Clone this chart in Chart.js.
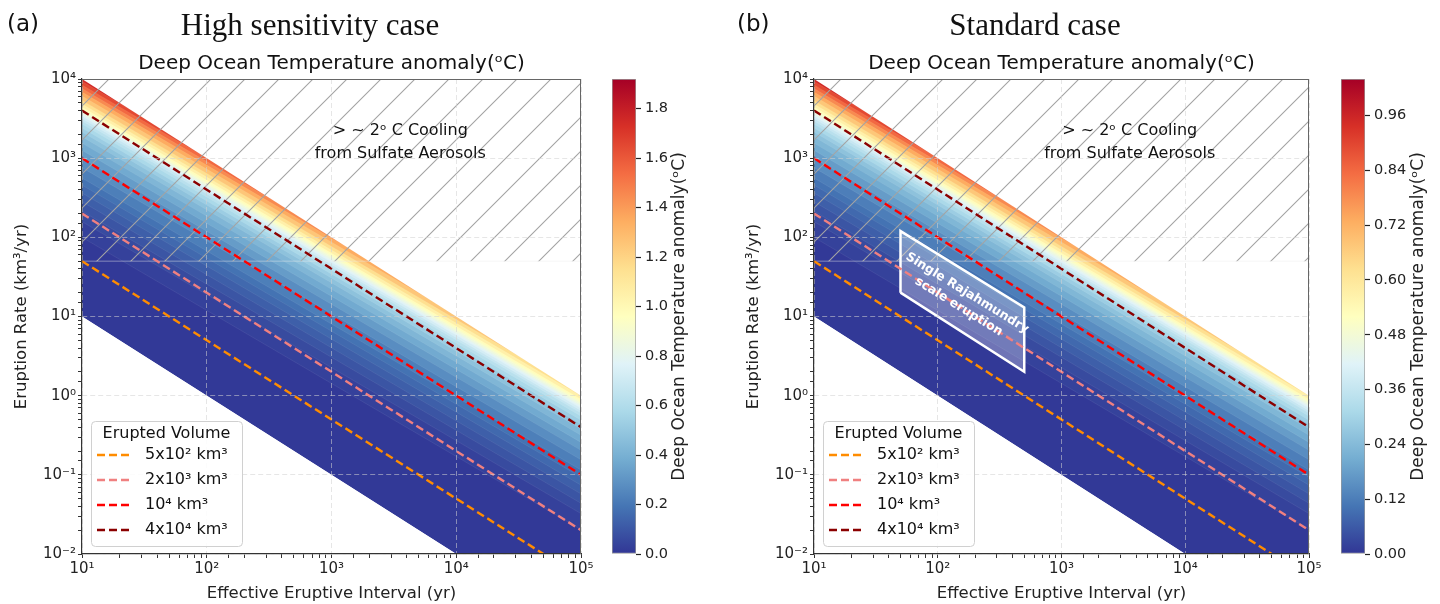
<!DOCTYPE html>
<html>
<head>
<meta charset="utf-8">
<script src="https://cdn.jsdelivr.net/npm/chart.js@4.4.1/dist/chart.umd.min.js"></script>
<style>
  html, body { margin: 0; padding: 0; background: #fff; }
  #wrap { position: relative; width: 1440px; height: 604px; overflow: hidden; }
  canvas { position: absolute; top: 0; }
</style>
</head>
<body>
<div id="wrap">
  <canvas id="mainA" width="600" height="604" style="left:0px"></canvas>
  <canvas id="barA" width="120" height="604" style="left:600px"></canvas>
  <canvas id="mainB" width="600" height="604" style="left:732px"></canvas>
  <canvas id="barB" width="108" height="604" style="left:1332px"></canvas>
</div>
<script>
// ---- data ----
// axis ranges
const intervalRange = [10, 1e5];
const rateRange = [1e-2, 1e4];

// erupted volume reference lines: rate at interval = 10 yr and at 1e5 yr
const volumeLabels = ['5x10² km³', '2x10³ km³', '10⁴ km³', '4x10⁴ km³'];
const volumeRateAt10 = [50, 200, 1000, 4000];
const volumeRateAt1e5 = [0.005, 0.02, 0.1, 0.4];

// edges of the coloured region (100 km3 and 1e5 km3)
const edgeRateAt10 = [10, 1e4];
const edgeRateAt1e5 = [1e-3, 1];

// contour lines of the temperature field (rate at 10 yr, rate at 1e5 yr)
const contourRateAt10 = [100, 158, 214, 282, 363, 457, 562, 759, 1000, 1259, 1549, 1862,
  2138, 2399, 2692, 2951, 3162, 3388, 3589, 3802, 3981, 4169, 4416, 4842, 5370, 6095,
  6839, 7586, 8414, 9333, 10233];
const contourRateAt1e5 = [0.0204, 0.0324, 0.0437, 0.0575, 0.0741, 0.0933, 0.115, 0.155,
  0.204, 0.257, 0.316, 0.380, 0.437, 0.490, 0.550, 0.603, 0.646, 0.692, 0.733, 0.776,
  0.813, 0.851, 0.902, 0.989, 1.096, 1.245, 1.396, 1.549, 1.718, 1.905, 2.089];
const contourTempA = [0.02, 0.05, 0.08, 0.11, 0.14, 0.17, 0.2, 0.25, 0.3, 0.35, 0.4, 0.45,
  0.5, 0.55, 0.6, 0.65, 0.7, 0.75, 0.8, 0.85, 0.9, 0.95, 1.0, 1.1, 1.2, 1.3,
  1.4, 1.5, 1.6, 1.7, 1.8];
const contourTempB = [0.011, 0.027, 0.043, 0.06, 0.076, 0.092, 0.108, 0.135, 0.163, 0.19,
  0.217, 0.244, 0.271, 0.298, 0.325, 0.352, 0.379, 0.406, 0.433, 0.46, 0.488, 0.515,
  0.542, 0.596, 0.65, 0.704, 0.759, 0.813, 0.867, 0.921, 0.975];
const tempMaxA = 1.92;
const tempMaxB = 1.04;
const cbarStepA = 0.2;
const cbarStepB = 0.12;

// sulfate cooling hatched zone (rate from 50 up)
const hatchRates = [50, 1e4];

// Rajahmundry box corners (interval, rate)
const boxIntervals = [50, 50, 500, 500, 50];
const boxRates = [20, 120, 13, 2, 20];

// ---- styles ----
const volumeColors = ['#ff8c00', '#f08080', '#ff0000', '#8b0000'];
const rdylbuR = ['#313695', '#4575b4', '#74add1', '#abd9e9', '#e0f3f8', '#ffffbf',
  '#fee090', '#fdae61', '#f46d43', '#d73027', '#a50026'];
const FONT = "'DejaVu Sans', sans-serif";
Chart.defaults.font.family = FONT;
Chart.defaults.color = '#222';

function hexRgb(h) {
  return [parseInt(h.slice(1, 3), 16), parseInt(h.slice(3, 5), 16), parseInt(h.slice(5, 7), 16)];
}
function cmap(t) {
  const n = rdylbuR.length - 1;
  t = Math.min(1, Math.max(0, t)) * n;
  const i = Math.min(Math.floor(t), n - 1), f = t - i;
  const a = hexRgb(rdylbuR[i]), b = hexRgb(rdylbuR[i + 1]);
  const c = a.map((v, k) => Math.round(v + (b[k] - v) * f));
  return 'rgb(' + c.join(',') + ')';
}

const supMap = { '-': '⁻', '0': '⁰', '1': '¹', '2': '²', '3': '³', '4': '⁴', '5': '⁵' };
function isDecade(v) {
  const e = Math.log10(v);
  return Math.abs(e - Math.round(e)) < 1e-6;
}
function powLabel(v) {
  if (!isDecade(v)) return '';
  return '10' + String(Math.round(Math.log10(v))).split('').map(c => supMap[c]).join('');
}

function hatchPattern() {
  const c = document.createElement('canvas');
  c.width = 34; c.height = 34;
  const g = c.getContext('2d');
  g.strokeStyle = '#a4a4a4';
  g.lineWidth = 1.1;
  g.beginPath();
  g.moveTo(-2, 20); g.lineTo(20, -2);
  g.moveTo(16, 36); g.lineTo(36, 16);
  g.stroke();
  return g.createPattern(c, 'repeat');
}

function edgeLine(r10, r1e5) {
  return [{ x: intervalRange[0], y: r10 }, { x: intervalRange[1], y: r1e5 }];
}

// spines, legend, labels and headers
function decorPlugin(cfg) {
  return {
    id: 'decor',
    afterDraw(chart) {
      const { ctx, chartArea: a, scales } = chart;
      const xs = scales.x, ys = scales.y;
      ctx.save();
      // top and right spines
      ctx.strokeStyle = '#666';
      ctx.lineWidth = 1;
      ctx.beginPath();
      ctx.moveTo(a.left, a.top + 0.5); ctx.lineTo(a.right, a.top + 0.5);
      ctx.moveTo(a.right - 0.5, a.top); ctx.lineTo(a.right - 0.5, a.bottom);
      ctx.stroke();

      // cooling note
      ctx.fillStyle = '#111';
      ctx.font = '16px ' + FONT;
      ctx.textAlign = 'center';
      ctx.textBaseline = 'middle';
      const nx = xs.getPixelForValue(3560);
      ctx.fillText('> ~ 2ᵒ C Cooling', nx, ys.getPixelForValue(2200));
      ctx.fillText('from Sulfate Aerosols', nx, ys.getPixelForValue(1150));

      // Rajahmundry label
      if (cfg.withBox) {
        const px = boxIntervals.slice(0, 4).map(v => xs.getPixelForValue(v));
        const py = boxRates.slice(0, 4).map(v => ys.getPixelForValue(v));
        const cx = px.reduce((s, v) => s + v, 0) / 4;
        const cy = py.reduce((s, v) => s + v, 0) / 4;
        const ang = Math.atan2(py[2] - py[1], px[2] - px[1]);
        ctx.save();
        ctx.translate(cx, cy);
        ctx.rotate(ang);
        ctx.fillStyle = '#fff';
        ctx.font = 'bold 12.5px ' + FONT;
        ctx.fillText('Single Rajahmundry', 0, -9);
        ctx.fillText('scale eruption', 0, 7);
        ctx.restore();
      }

      // legend
      const lx = a.left + 9, lw = 151, lh = 125, ly = a.bottom - 8 - lh;
      ctx.beginPath();
      ctx.roundRect(lx + 0.5, ly + 0.5, lw, lh, 4);
      ctx.fillStyle = 'rgba(255,255,255,0.85)';
      ctx.fill();
      ctx.strokeStyle = '#d0d0d0';
      ctx.lineWidth = 1;
      ctx.stroke();
      ctx.fillStyle = '#111';
      ctx.font = '16px ' + FONT;
      ctx.textAlign = 'center';
      ctx.fillText('Erupted Volume', lx + lw / 2, ly + 13);
      ctx.textAlign = 'left';
      volumeLabels.forEach((lab, i) => {
        const yy = ly + 34 + i * 25;
        ctx.save();
        ctx.strokeStyle = volumeColors[i];
        ctx.lineWidth = 2.4;
        ctx.setLineDash([8, 4]);
        ctx.beginPath();
        ctx.moveTo(lx + 6, yy); ctx.lineTo(lx + 40, yy);
        ctx.stroke();
        ctx.restore();
        ctx.fillText(lab, lx + 54, yy);
      });

      // headers
      ctx.textAlign = 'left';
      ctx.textBaseline = 'alphabetic';
      ctx.font = '23px ' + FONT;
      ctx.fillText(cfg.tag, cfg.tagX, 31);
      ctx.textAlign = 'center';
      ctx.font = '31px "Liberation Serif", serif';
      ctx.fillText(cfg.title, cfg.titleX, 35);
      ctx.font = '20px ' + FONT;
      ctx.fillText('Deep Ocean Temperature anomaly(ᵒC)', (a.left + a.right) / 2, 69);
      ctx.restore();
    }
  };
}

function buildMain(id, temps, tMax, cfg) {
  const ds = [];
  // dark base of the coloured band
  ds.push({ data: edgeLine(edgeRateAt10[0], edgeRateAt1e5[0]), fill: 'end',
    backgroundColor: cmap(temps[0] / 2 / tMax), borderWidth: 0, order: 300 });
  temps.forEach((t, i) => {
    const hi = i + 1 < temps.length ? temps[i + 1] : tMax;
    ds.push({ data: edgeLine(contourRateAt10[i], contourRateAt1e5[i]), fill: 'end',
      backgroundColor: cmap((t + hi) / 2 / tMax),
      borderColor: 'rgba(255,255,255,0.12)', borderWidth: 0.6, order: 200 - i });
  });
  // white outside the band
  ds.push({ data: edgeLine(edgeRateAt10[1], edgeRateAt1e5[1]), fill: 'end',
    backgroundColor: '#ffffff', borderWidth: 0, order: 50 });
  ds.push({ data: edgeLine(edgeRateAt10[0], edgeRateAt1e5[0]), fill: 'start',
    backgroundColor: '#ffffff', borderWidth: 0, order: 50 });
  // hatched cooling zone
  ds.push({ data: edgeLine(hatchRates[1], hatchRates[1]), fill: { value: hatchRates[0] },
    backgroundColor: hatchPattern(), borderWidth: 0, order: 20 });
  ds.push({ data: edgeLine(hatchRates[0], hatchRates[0]), fill: false,
    borderColor: 'rgba(235,235,235,0.45)', borderWidth: 1, order: 19 });
  if (cfg.withBox) {
    ds.push({ data: boxIntervals.map((v, i) => ({ x: v, y: boxRates[i] })), fill: 'shape',
      backgroundColor: 'rgba(255,255,255,0.3)', borderColor: '#ffffff', borderWidth: 2.5, order: 10 });
  }
  volumeRateAt10.forEach((r, i) => {
    ds.push({ data: edgeLine(r, volumeRateAt1e5[i]), fill: false, borderColor: volumeColors[i],
      borderWidth: 2.4, borderDash: [8, 4], order: 4 - i });
  });

  const gridColor = c => (c.tick && isDecade(c.tick.value)) ? 'rgba(210,210,210,0.55)' : 'rgba(0,0,0,0)';

  return new Chart(document.getElementById(id), {
    type: 'line',
    data: { datasets: ds },
    options: {
      responsive: false,
      animation: false,
      events: [],
      layout: { padding: { top: 79, right: cfg.rightPad, left: 0, bottom: 0 } },
      elements: { point: { radius: 0 }, line: { tension: 0 } },
      plugins: { legend: { display: false }, tooltip: { enabled: false } },
      scales: {
        x: {
          type: 'logarithmic', min: intervalRange[0], max: intervalRange[1],
          afterFit: s => { s.height = 50; },
          ticks: { autoSkip: false, maxRotation: 0, padding: 2, color: '#222',
            font: { size: 15 }, callback: v => powLabel(v) },
          grid: { z: 1, color: gridColor, tickColor: '#333', tickLength: 4, tickBorderDash: [] },
          border: { z: 1, color: '#333', width: 1.2, dash: [5, 3] },
          title: { display: true, text: 'Effective Eruptive Interval (yr)', color: '#222',
            font: { size: 16.5 }, padding: { top: 0, bottom: 0 } }
        },
        y: {
          type: 'logarithmic', min: rateRange[0], max: rateRange[1],
          afterFit: s => { s.width = 82; },
          ticks: { autoSkip: false, padding: 2, color: '#222',
            font: { size: 15 }, callback: v => powLabel(v) },
          grid: { z: 1, color: gridColor, tickColor: '#333', tickLength: 4, tickBorderDash: [] },
          border: { z: 1, color: '#333', width: 1.2, dash: [5, 3] },
          title: { display: true, text: 'Eruption Rate (km³/yr)', color: '#222',
            font: { size: 16.5 }, padding: { top: 12, bottom: 0 } }
        }
      }
    },
    plugins: [decorPlugin(cfg)]
  });
}

function buildBar(id, tMax, step, dec, padLeft, axisWidth, labelX) {
  return new Chart(document.getElementById(id), {
    type: 'bar',
    data: {
      labels: [''],
      datasets: [{
        data: [[0, tMax]],
        backgroundColor: c => {
          const a = c.chart.chartArea;
          if (!a) return cmap(0.5);
          const g = c.chart.ctx.createLinearGradient(0, a.bottom, 0, a.top);
          rdylbuR.forEach((col, i) => g.addColorStop(i / (rdylbuR.length - 1), col));
          return g;
        },
        borderColor: '#9a9a9a', borderWidth: 1, borderSkipped: false,
        barPercentage: 1, categoryPercentage: 1
      }]
    },
    options: {
      responsive: false,
      animation: false,
      events: [],
      layout: { padding: { left: padLeft, top: 79, bottom: 50, right: 0 } },
      plugins: { legend: { display: false }, tooltip: { enabled: false } },
      scales: {
        x: { display: false },
        y: {
          position: 'right', min: 0, max: tMax,
          afterFit: s => { s.width = axisWidth; },
          ticks: { stepSize: step, includeBounds: false, padding: 4, color: '#222',
            font: { size: 14.5 }, callback: v => v.toFixed(dec) },
          grid: { drawOnChartArea: false, tickLength: 5, tickColor: '#222', tickWidth: 1.2 },
          border: { display: false }
        }
      }
    },
    plugins: [{
      id: 'cbLabel',
      afterDraw(chart) {
        const { ctx, chartArea: a } = chart;
        ctx.save();
        ctx.translate(labelX, (a.top + a.bottom) / 2);
        ctx.rotate(-Math.PI / 2);
        ctx.fillStyle = '#222';
        ctx.font = '17px ' + FONT;
        ctx.textAlign = 'center';
        ctx.textBaseline = 'middle';
        ctx.fillText('Deep Ocean Temperature anomaly(ᵒC)', 0, 0);
        ctx.restore();
      }
    }]
  });
}

buildMain('mainA', contourTempA, tempMaxA,
  { tag: '(a)', tagX: 7, title: 'High sensitivity case', titleX: 310, rightPad: 19, withBox: false });
buildMain('mainB', contourTempB, tempMaxB,
  { tag: '(b)', tagX: 5, title: 'Standard case', titleX: 303, rightPad: 23, withBox: true });
buildBar('barA', tempMaxA, cbarStepA, 1, 12, 84, 80);
buildBar('barB', tempMaxB, cbarStepB, 2, 9, 75, 87);
</script>
</body>
</html>
